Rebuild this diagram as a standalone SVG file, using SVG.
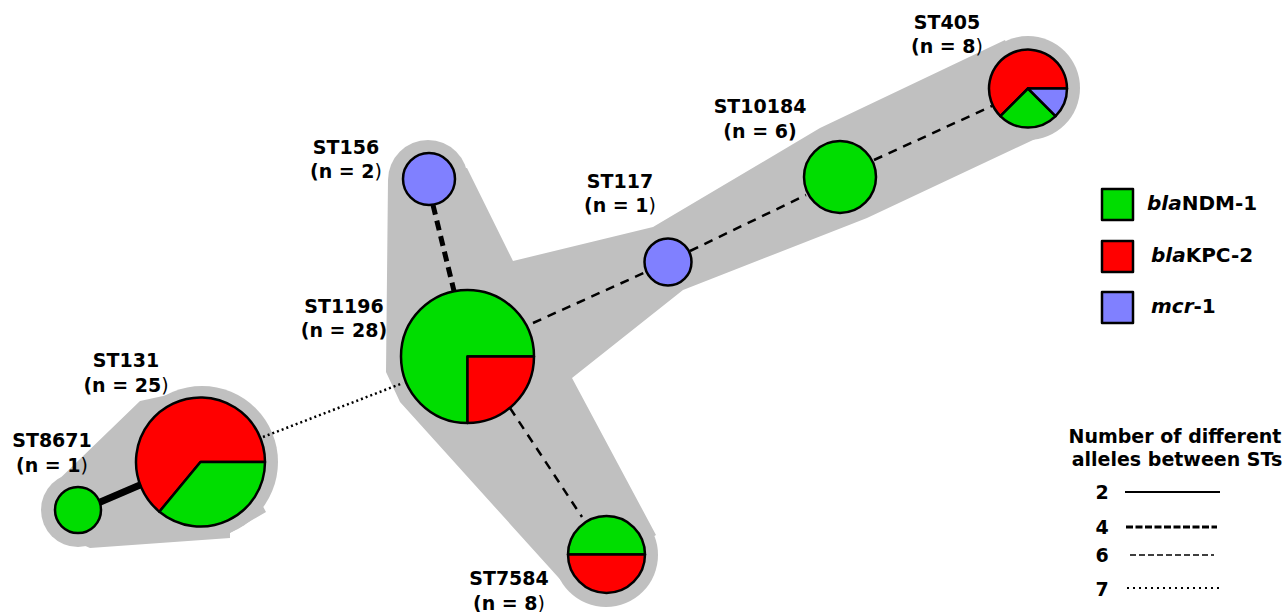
<svg xmlns="http://www.w3.org/2000/svg" width="1286" height="612" viewBox="0 0 1286 612">
<style>
.bg{fill:#c0c0c0;stroke:none}
.pie{stroke:#000;stroke-width:2.5;stroke-linejoin:round}
.g{fill:#00dd00}.r{fill:#ff0000}.b{fill:#8080ff}
.lbl{font-family:"DejaVu Sans","Liberation Sans",sans-serif;font-weight:bold;font-size:19px;fill:#000;text-anchor:middle}
.thin{font-weight:normal}
.leg{font-family:"DejaVu Sans","Liberation Sans",sans-serif;font-weight:bold;font-size:20px;fill:#000}
.it{font-style:italic}
.c2{stroke:#000;stroke-width:7;fill:none}
.c4{stroke:#000;stroke-width:5;stroke-dasharray:10 6;fill:none}
.c6{stroke:#000;stroke-width:2.5;stroke-dasharray:9 7;fill:none}
.c7{stroke:#000;stroke-width:2.5;stroke-dasharray:2 3;fill:none}
</style>
<rect width="1286" height="612" fill="#fff"/>
<g id="background">
<polygon class="bg" points="388,180 467,168 513,261 653,227 820,128 1005,40 1048,133 867,218 683,290 572,378 656,535 567,587 400,402 386,372"/>
<circle class="bg" cx="428" cy="180" r="40"/>
<circle class="bg" cx="1028" cy="88" r="52"/>
<circle class="bg" cx="606" cy="555" r="52"/>
<polygon class="bg" points="50,488 140,401 200,388 266,512 230,533 230,538 90,548 60,535"/>
<circle class="bg" cx="202" cy="462" r="76"/>
<circle class="bg" cx="78" cy="510" r="37"/>
</g>
<g id="connectors">
<line class="c2" x1="98" y1="503" x2="140" y2="485"/>
<line class="c7" x1="263" y1="437" x2="403" y2="383"/>
<line class="c4" x1="433" y1="205" x2="454" y2="291"/>
<line class="c6" x1="533" y1="323" x2="646" y2="272"/>
<line class="c6" x1="690" y1="251" x2="806" y2="195"/>
<line class="c6" x1="874" y1="160" x2="992" y2="106"/>
<line class="c6" x1="510" y1="408" x2="582" y2="517"/>
</g>
<g id="ST156">
<circle class="pie b" cx="429" cy="179" r="26"/>
<text class="lbl" x="346" y="154">ST156</text>
<text class="lbl" x="346" y="178">(n = 2<tspan class="thin">)</tspan></text>
</g>
<g id="ST1196">
<path class="pie g" d="M467.5,356.5 L467.5,423 A66.5,66.5 0 1 1 534,356.5 Z"/>
<path class="pie r" d="M467.5,356.5 L534,356.5 A66.5,66.5 0 0 1 467.5,423 Z"/>
<text class="lbl" x="344" y="313">ST1196</text>
<text class="lbl" x="344" y="337">(n = 28)</text>
</g>
<g id="ST117">
<circle class="pie b" cx="668" cy="262" r="23.5"/>
<text class="lbl" x="620" y="188">ST117</text>
<text class="lbl" x="620" y="212">(n = 1<tspan class="thin">)</tspan></text>
</g>
<g id="ST10184">
<circle class="pie g" cx="840" cy="177" r="36"/>
<text class="lbl" x="760" y="113">ST10184</text>
<text class="lbl" x="760" y="138">(n = 6)</text>
</g>
<g id="ST405">
<path class="pie r" d="M1028,88.5 L1000.4,116.1 A39,39 0 1 1 1067,88.5 Z"/>
<path class="pie g" d="M1028,88.5 L1055.6,116.1 A39,39 0 0 1 1000.4,116.1 Z"/>
<path class="pie b" d="M1028,88.5 L1067,88.5 A39,39 0 0 1 1055.6,116.1 Z"/>
<text class="lbl" x="947" y="29">ST405</text>
<text class="lbl" x="947" y="53">(n = 8<tspan class="thin">)</tspan></text>
</g>
<g id="ST131">
<path class="pie r" d="M200.5,462 L159.4,511.7 A64.5,64.5 0 1 1 265,462 Z"/>
<path class="pie g" d="M200.5,462 L265,462 A64.5,64.5 0 0 1 159.4,511.7 Z"/>
<text class="lbl" x="126" y="367">ST131</text>
<text class="lbl" x="126" y="392">(n = 25<tspan class="thin">)</tspan></text>
</g>
<g id="ST8671">
<circle class="pie g" cx="78" cy="510" r="23"/>
<text class="lbl" x="52" y="447">ST8671</text>
<text class="lbl" x="52" y="472">(n = 1<tspan class="thin">)</tspan></text>
</g>
<g id="ST7584">
<path class="pie g" d="M568,554.5 A38.5,38.5 0 0 1 645,554.5 Z"/>
<path class="pie r" d="M645,554.5 A38.5,38.5 0 0 1 568,554.5 Z"/>
<text class="lbl" x="509" y="585">ST7584</text>
<text class="lbl" x="509" y="610">(n = 8<tspan class="thin">)</tspan></text>
</g>
<g id="legend-genes">
<rect class="pie g" x="1102" y="189" width="31" height="31"/>
<rect class="pie r" x="1102" y="241" width="31" height="31"/>
<rect class="pie b" x="1102" y="292" width="31" height="31"/>
<text class="leg" x="1147" y="210"><tspan class="it">bla</tspan>NDM-1</text>
<text class="leg" x="1151" y="262"><tspan class="it">bla</tspan>KPC-2</text>
<text class="leg" x="1151" y="313"><tspan class="it">mcr</tspan>-1</text>
</g>
<g id="legend-lines">
<text class="lbl" x="1175" y="443">Number of different</text>
<text class="lbl" x="1177" y="466">alleles between STs</text>
<text class="lbl" x="1102" y="499">2</text>
<text class="lbl" x="1102" y="534">4</text>
<text class="lbl" x="1102" y="562">6</text>
<text class="lbl" x="1102" y="596">7</text>
<line stroke="#000" stroke-width="2" x1="1125" y1="492" x2="1220" y2="492"/>
<line stroke="#000" stroke-width="3" stroke-dasharray="7 2.5" x1="1126" y1="527" x2="1217" y2="527"/>
<line stroke="#000" stroke-width="1.5" stroke-dasharray="6 3" x1="1130" y1="555" x2="1214" y2="555"/>
<line stroke="#000" stroke-width="2" stroke-dasharray="2 4" x1="1127" y1="588" x2="1221" y2="588"/>
</g>
</svg>
